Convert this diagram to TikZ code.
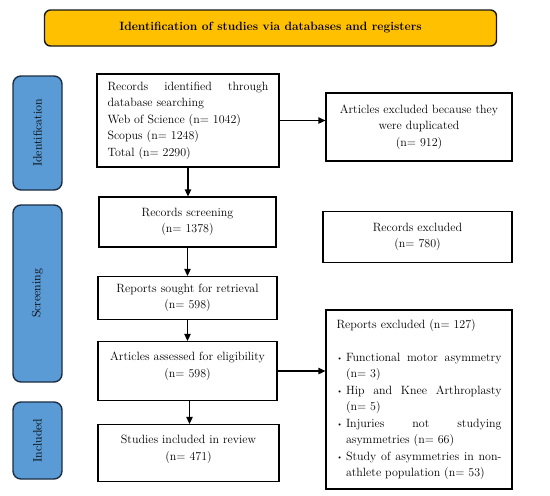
\documentclass[tikz,border=0pt]{standalone}
\usetikzlibrary{arrows.meta}
\definecolor{titlefill}{HTML}{FFC000}
\definecolor{barfill}{HTML}{5B9BD5}
\definecolor{barline}{HTML}{1C2E44}
\hyphenpenalty=10000
\hbadness=10000
\newcommand{\bitem}{\par\hangindent=9.5pt\hangafter=1\noindent\makebox[9.5pt][l]{\raisebox{0.5pt}{\scriptsize\textbullet}}}
\begin{document}
\begin{tikzpicture}[x=1pt,y=-1pt,
  box/.style={draw=black, line width=1.3pt, inner xsep=10.5pt, inner ysep=3pt,
    font=\fontsize{12}{16.5}\selectfont},
  cbox/.style={box, align=center},
  jbox/.style={box, align=justify},
  sidebar/.style={draw=barline, fill=barfill, line width=1.4pt, rounded corners=8pt,
    minimum width=49pt, inner sep=0pt},
  sidelabel/.style={rotate=90, font=\fontsize{12}{13}\selectfont, text=black},
  arr/.style={line width=1.3pt, -{Triangle[length=7pt,width=6.5pt]}}
]
\useasboundingbox (0,0) rectangle (550,496);
\fill[white] (0,0) rectangle (550,496);

% title
\node[draw=black!90, fill=titlefill, line width=1.4pt, rounded corners=6pt,
  minimum width=452pt, minimum height=36pt, inner sep=0pt,
  font=\bfseries\fontsize{12}{14}\selectfont] (title) at (270.5,28)
  {Identification of studies via databases and registers};

% side bars
\node[sidebar, minimum height=114pt] (idbar) at (37.5,133) {};
\node[sidelabel] (idlab) at (idbar.center) {Identification};
\node[sidebar, minimum height=177pt] (scrbar) at (37.5,293.5) {};
\node[sidelabel] (scrlab) at (scrbar.center) {Screening};
\node[sidebar, minimum height=77pt] (incbar) at (37.5,440.5) {};
\node[sidelabel] (inclab) at (incbar.center) {Included};

% main column
\node[jbox, text width=161pt, minimum height=93pt] (rec) at (188,120.5)
  {Records identified through\linebreak database searching\newline
   Web of Science (n= 1042)\newline
   Scopus (n= 1248)\newline
   Total (n= 2290)};
\node[cbox, text width=156pt, minimum height=50pt] (scr) at (187.5,222)
  {Records screening\\(n= 1378)};
\node[cbox, text width=158pt, minimum height=43pt] (sought) at (187.5,298)
  {Reports sought for retrieval\\(n= 598)};
\node[cbox, text width=158pt, minimum height=59pt] (assess) at (187.5,371)
  {Articles assessed for eligibility\\(n= 598)\\[-4pt]\mbox{}};
\node[cbox, text width=160pt, minimum height=57pt] (incl) at (188.5,453)
  {Studies included in review\\(n= 471)\\[-6pt]\mbox{}};

% right column
\node[cbox, text width=165pt, minimum height=68pt] (dup) at (419,127)
  {Articles excluded because they\\were duplicated\\(n= 912)};
\node[cbox, text width=168pt, minimum height=51pt] (rex) at (417.5,237)
  {Records excluded\\(n= 780)};
\node[jbox, text width=165pt, minimum height=179pt] (repex) at (419,399.5)
  {\noindent Reports excluded (n= 127)\par\vspace{16.5pt}
   \bitem Functional motor asymmetry\linebreak (n= 3)
   \bitem Hip and Knee Arthroplasty\linebreak (n= 5)
   \bitem Injuries not studying\linebreak asymmetries (n= 66)
   \bitem Study of asymmetries in non-\linebreak athlete population (n= 53)\par};

% connectors
\draw[arr] (rec.east) -- (rec.east -| dup.west);
\draw[arr] (rec.south) -- (rec.south |- scr.north);
\draw[arr] (scr.south) -- (scr.south |- sought.north);
\draw[arr] (sought.south) -- (sought.south |- assess.north);
\draw[arr] (assess.east) -- (assess.east -| repex.west);
\draw[arr] ([xshift=2pt]assess.south) -- ([xshift=2pt]assess.south |- incl.north);
\end{tikzpicture}
\end{document}
